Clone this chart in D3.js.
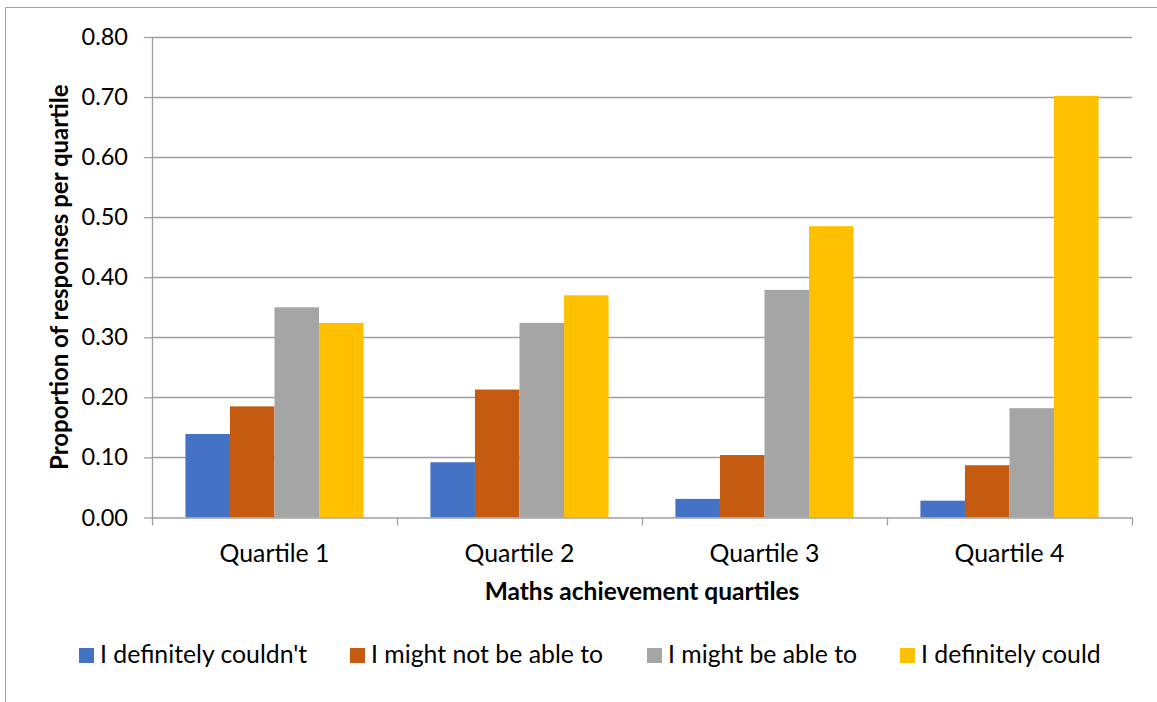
<!DOCTYPE html>
<html>
<head>
<meta charset="utf-8">
<script src="https://cdn.jsdelivr.net/npm/d3@7"></script>
<style>
  html, body { margin: 0; padding: 0; background: #fff; }
  svg { display: block; font-family: Lato, "Open Sans", sans-serif; }
</style>
</head>
<body>
<svg id="chart" width="1157" height="702"></svg>
<script>
// Quartile categories and response proportions per series
const categories = ["Quartile 1", "Quartile 2", "Quartile 3", "Quartile 4"];
const seriesNames = ["I definitely couldn't", "I might not be able to", "I might be able to", "I definitely could"];
const definitelyCouldnt = [0.139, 0.092, 0.031, 0.028];
const mightNotBeAbleTo = [0.185, 0.213, 0.104, 0.087];
const mightBeAbleTo = [0.350, 0.324, 0.379, 0.182];
const definitelyCould = [0.324, 0.370, 0.485, 0.702];
const yTicks = [0, 0.1, 0.2, 0.3, 0.4, 0.5, 0.6, 0.7, 0.8];
const colors = ["#4472C4", "#C55A11", "#A5A5A5", "#FFC000"];

const seriesValues = [definitelyCouldnt, mightNotBeAbleTo, mightBeAbleTo, definitelyCould];

const svg = d3.select("#chart");
const plot = { left: 152, right: 1132, top: 37, bottom: 517.5 };

// Outer chart frame (top and left edges visible)
svg.append("path")
  .attr("d", "M5.5,702 V7.5 H1157")
  .attr("fill", "none")
  .attr("stroke", "#A6A6A6")
  .attr("stroke-width", 1);

const x0 = d3.scaleBand()
  .domain(categories)
  .range([plot.left, plot.right])
  .paddingInner(0)
  .paddingOuter(0);

// bars occupy 4 of (4 + 1.5) bar widths in each band (150% gap)
const barW = x0.bandwidth() / (seriesNames.length + 1.5);
const groupOffset = barW * 0.75;

const y = d3.scaleLinear().domain([0, 0.8]).range([plot.bottom, plot.top]);

// Gridlines
svg.append("g")
  .selectAll("line")
  .data(yTicks.slice(1))
  .join("line")
  .attr("x1", plot.left)
  .attr("x2", plot.right)
  .attr("y1", d => Math.round(y(d)) + 0.5)
  .attr("y2", d => Math.round(y(d)) + 0.5)
  .attr("stroke", "#A0A0A0")
  .attr("stroke-width", 1.3);

// Bars
const groups = svg.append("g")
  .selectAll("g")
  .data(categories)
  .join("g")
  .attr("transform", c => `translate(${x0(c) + groupOffset},0)`);

groups.selectAll("rect")
  .data((c, ci) => seriesValues.map((vals, si) => ({ si, v: vals[ci] })))
  .join("rect")
  .attr("x", d => d.si * barW)
  .attr("width", barW)
  .attr("y", d => y(d.v))
  .attr("height", d => y(0) - y(d.v))
  .attr("fill", d => colors[d.si]);

// Y axis
const yAxis = d3.axisLeft(y)
  .tickValues(yTicks)
  .tickFormat(d3.format(".2f"))
  .tickSize(8)
  .tickPadding(16);

const yg = svg.append("g")
  .attr("transform", `translate(${plot.left},0)`)
  .call(yAxis);
yg.select(".domain").attr("stroke", "#A0A0A0").attr("stroke-width", 1.3)
  .attr("d", `M0.5,${plot.top}V${plot.bottom}`);
yg.selectAll(".tick line").attr("stroke", "#A0A0A0").attr("stroke-width", 1.3);
yg.selectAll(".tick text")
  .attr("fill", "#000")
  .style("font-size", "23.5px")
  .style("font-family", "Lato, sans-serif");

// X axis with tick marks at category boundaries
const xg = svg.append("g")
  .attr("transform", `translate(0,${plot.bottom})`);
xg.append("line")
  .attr("x1", plot.left).attr("x2", plot.right)
  .attr("y1", 0.5).attr("y2", 0.5)
  .attr("stroke", "#A0A0A0").attr("stroke-width", 1.3);
const boundaries = categories.map(c => x0(c)).concat([plot.right]);
xg.selectAll("line.tk")
  .data(boundaries)
  .join("line")
  .attr("class", "tk")
  .attr("x1", d => Math.round(d) + 0.5).attr("x2", d => Math.round(d) + 0.5)
  .attr("y1", 0).attr("y2", 8)
  .attr("stroke", "#A0A0A0").attr("stroke-width", 1.3);
xg.selectAll("text")
  .data(categories)
  .join("text")
  .attr("x", c => x0(c) + x0.bandwidth() / 2)
  .attr("y", 44)
  .attr("text-anchor", "middle")
  .style("font-size", "24.8px")
  .text(c => c);

// Axis titles
svg.append("text")
  .attr("x", (plot.left + plot.right) / 2)
  .attr("y", 600)
  .attr("text-anchor", "middle")
  .style("font-size", "24.5px")
  .style("font-weight", "bold")
  .text("Maths achievement quartiles");

svg.append("text")
  .attr("transform", `translate(68,${(plot.top + plot.bottom) / 2}) rotate(-90)`)
  .attr("text-anchor", "middle")
  .style("font-size", "24px")
  .style("font-weight", "bold")
  .text("Proportion of responses per quartile");

// Legend
const legendX = [79, 350, 647, 900];
const legend = svg.append("g")
  .selectAll("g")
  .data(seriesNames)
  .join("g")
  .attr("transform", (d, i) => `translate(${legendX[i]},648)`);
legend.append("rect")
  .attr("width", 15).attr("height", 15)
  .attr("fill", (d, i) => colors[i]);
legend.append("text")
  .attr("x", 21)
  .attr("y", 15)
  .style("font-size", "24.8px")
  .text(d => d);
</script>
</body>
</html>
